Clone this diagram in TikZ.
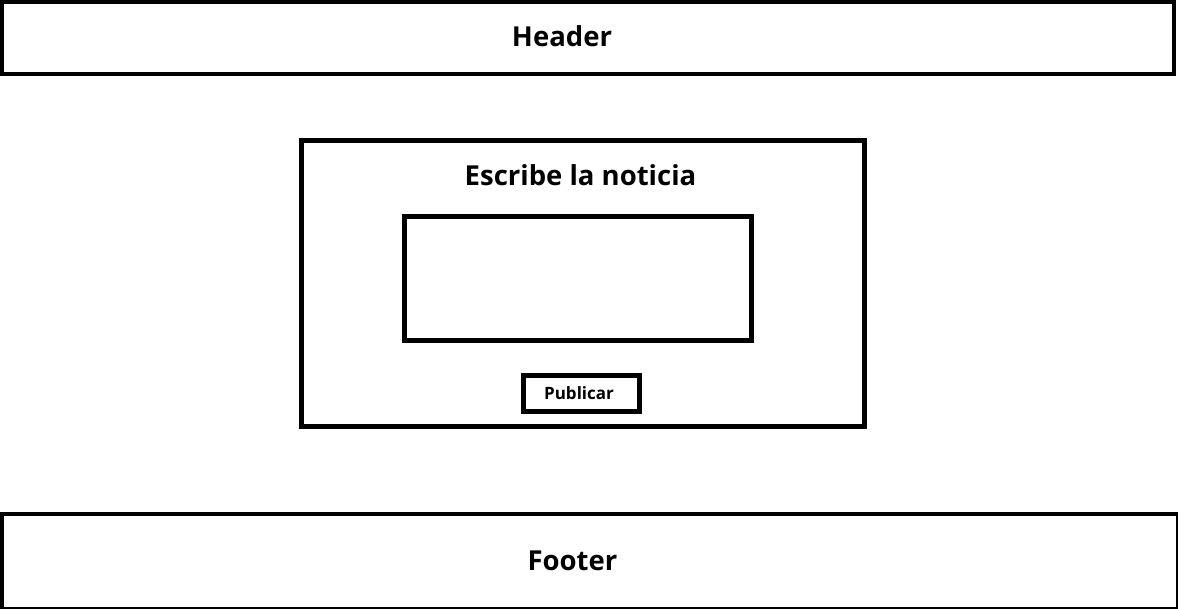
\documentclass[tikz,border=0pt]{standalone}
\usepackage{fontspec}
\setmainfont{Open Sans}
\begin{document}
\begin{tikzpicture}[x=1pt,y=-1pt,
  frame/.style={draw=black,line width=4.5pt},
  big/.style={font=\fontsize{27.5}{30}\selectfont\bfseries,anchor=base,inner sep=0pt},
  small/.style={font=\fontsize{17}{19}\selectfont\bfseries,anchor=base,inner sep=0pt}]
\useasboundingbox (0,0) rectangle (1178,608);
\fill[white] (0,0) rectangle (1178,608);
% header
\draw[frame,line width=4pt] (1.5,2) rectangle (1173.5,74);
\node[big] (header) at (562,46) {Header};
% main box
\draw[frame,line width=5pt] (301.5,140.5) rectangle (864,426);
\node[big] (title) at (580.5,185) {Escribe la noticia};
\draw[frame,line width=5pt] (404.5,216.5) rectangle (751.5,340.5);
\draw[frame,line width=5pt] (523.5,375.5) rectangle (639.5,411.5);
\node[small] (pub) at (579,399) {Publicar};
% footer
\draw[frame,line width=4pt] (1.5,513.5) rectangle (1177.5,609);
\node[big] (footer) at (572.5,570) {Footer};
\end{tikzpicture}
\end{document}
